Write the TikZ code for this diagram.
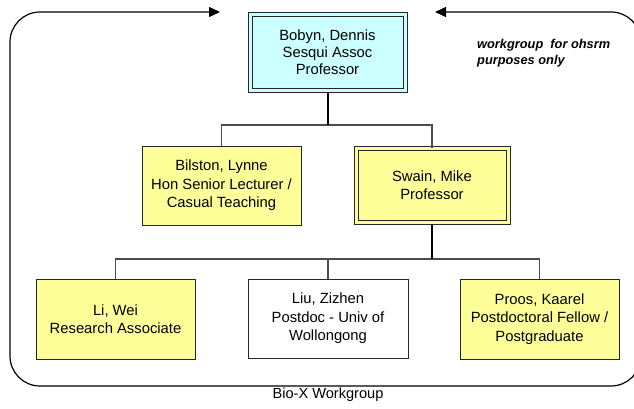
\documentclass[tikz,border=0pt]{standalone}
\usepackage{fontspec}
\setmainfont{Liberation Sans}
\usetikzlibrary{arrows.meta}
\definecolor{cyanfill}{HTML}{CCFFFF}
\definecolor{yelfill}{HTML}{FFFF99}
\tikzset{
  box/.style={draw=black!85, line width=1pt, align=center, inner sep=0pt,
    font=\fontsize{14.8}{18.5}\selectfont},
  dbox/.style={box, double=#1, double distance=3pt},
  trunk/.style={draw=black, line width=2pt},
  branch/.style={draw=black!70, line width=1.3pt},
  frame/.style={draw=black, line width=1.2pt, rounded corners=30pt,
    {Triangle[length=11pt,width=10pt]}-{Triangle[length=11pt,width=10pt]}},
}
\begin{document}
\begin{tikzpicture}[x=1pt,y=-1pt]
\useasboundingbox (0,0) rectangle (634,408);
\fill[white] (0,0) rectangle (634,408);

% frame
\coordinate (fl) at (220,12);
\coordinate (fr) at (435,12);
\draw[frame] (fl) -- (10,12) -- (10,386) -- (641,386) -- (641,12) -- (fr);

% nodes
\node[dbox=cyanfill, fill=cyanfill, minimum width=155pt, minimum height=76pt,
  font=\fontsize{14.8}{17}\selectfont] (top) at (327.5,52)
  {Bobyn, Dennis\\Sesqui Assoc\\Professor};
\node[box, fill=yelfill, minimum width=159pt, minimum height=79pt] (bilston) at (221.5,185.5)
  {Bilston, Lynne\\Hon Senior Lecturer /\\Casual Teaching};
\node[dbox=yelfill, fill=yelfill, minimum width=152pt, minimum height=74pt] (swain) at (432,185)
  {Swain, Mike\\Professor};
\node[box, fill=yelfill, minimum width=159pt, minimum height=80pt] (li) at (115.5,319)
  {Li, Wei\\Research Associate};
\node[box, fill=white, minimum width=160pt, minimum height=79pt] (liu) at (328,318.5)
  {Liu, Zizhen\\Postdoc - Univ of\\Wollongong};
\node[box, fill=yelfill, minimum width=159pt, minimum height=80pt] (proos) at (539.5,319)
  {Proos, Kaarel\\Postdoctoral Fellow /\\Postgraduate};

% connectors
\coordinate (bus1) at (0,125);
\coordinate (bus2) at (0,259);
\draw[branch] (bilston.north) -- (bilston.north |- bus1) -| (swain.north);
\draw[trunk] ([yshift=-2pt]top.south) -- (top.south |- bus1);
\draw[branch] (li.north) -- (li.north |- bus2) -| (proos.north);
\draw[branch] (liu.north) -- (liu.north |- bus2);
\draw[trunk] ([yshift=-2pt]swain.south) -- (swain.south |- bus2);

% texts
\node[anchor=west, align=left, inner sep=0pt,
  font=\fontsize{12.8}{16}\selectfont\bfseries\itshape] (note) at (477,53)
  {workgroup~ for ohsrm\\purposes only};
\node[inner sep=0pt, font=\fontsize{14.6}{17}\selectfont] (cap) at (328,395) {Bio-X Workgroup};
\end{tikzpicture}
\end{document}
